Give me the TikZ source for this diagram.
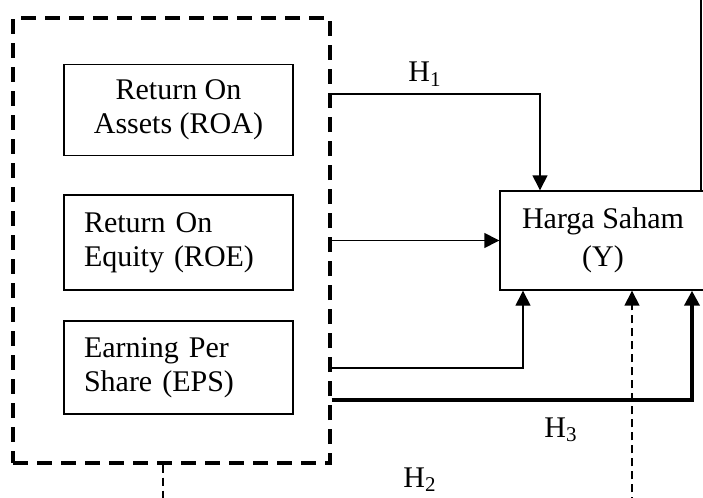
\documentclass[tikz,border=0pt]{standalone}
\usepackage{fontspec}
\setmainfont{Liberation Serif}
\usetikzlibrary{arrows.meta}

\tikzset{
  var/.style={draw, line width=0.7pt, inner ysep=0pt, font=\fontsize{15}{17}\selectfont},
  varleft/.style={var, text width=94.5pt, inner xsep=10pt, align=left, minimum width=114.5pt},
  grpbox/.style={draw, line width=1.6pt, dash pattern=on 7.5pt off 4.5pt, minimum width=158.5pt, minimum height=222.5pt},
  link/.style={line width=0.7pt, -{Triangle[length=7.5pt,width=7.5pt]}},
  hyp/.style={font=\fontsize{15}{17}\selectfont, anchor=base west, inner sep=0pt}
}

\begin{document}
\begin{tikzpicture}[x=0.5pt,y=-0.5pt]
\useasboundingbox (0,0) rectangle (703,498);
\clip (0,0) rectangle (703,498);

% variables
\node[grpbox] (grp) at (171.5,240.5) {};
\node[var, align=center, minimum width=114.5pt, minimum height=45.5pt] (roa) at (178.5,110) {Return On\\Assets (ROA)};
\node[varleft, minimum height=47.5pt] (roe) at (178.5,242.5) {Return On\\Equity (ROE)};
\node[varleft, minimum height=46.5pt] (eps) at (178.5,367.5) {Earning Per\\Share (EPS)};
\node[var, align=center, minimum width=103pt, minimum height=49.5pt, font=\fontsize{15}{19}\selectfont] (ys) at (603,240.5) {Harga Saham\\(Y)};

% bends
\coordinate (h1) at (540,94);
\coordinate (e1) at (523,368);
\coordinate (e2) at (692,400);
\coordinate (d0) at (163,530);
\coordinate (d1) at (632,530);
\coordinate (up) at (701,-20);

\draw[link] (grp.east |- h1) -| (h1 |- ys.north);
\draw[link] (grp.east |- ys.west) -- (ys.west);
\draw[link] (grp.east |- e1) -| (e1 |- ys.south);
\draw[link, line width=2pt] (grp.east |- e2) -| (e2 |- ys.south);
\draw[link, line width=0.75pt, dash pattern=on 4pt off 2.5pt] (grp.south -| d0) -- (d0) -- (d1) -- (d1 |- ys.south);
\draw[line width=0.7pt] (up |- ys.north) -- (up);

% labels
\node[hyp] (lh1) at (408,82) {H\textsubscript{1}};
\node[hyp] (lh3) at (544,437) {H\textsubscript{3}};
\node[hyp] (lh2) at (403,487) {H\textsubscript{2}};
\end{tikzpicture}
\end{document}
